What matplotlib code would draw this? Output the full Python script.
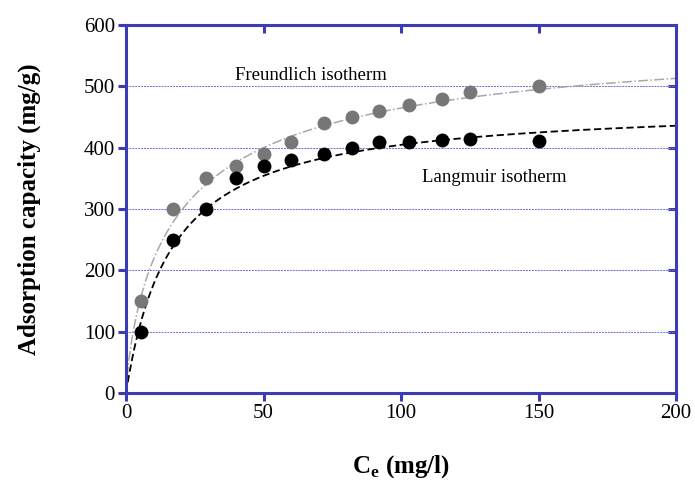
import matplotlib.pyplot as plt
import numpy as np

# measured points
ce = [5.5, 17, 29, 40, 50, 60, 72, 82, 92, 103, 115, 125, 150]
q_freundlich = [150, 300, 350, 370, 390, 410, 440, 450, 460, 470, 480, 490, 500]
q_langmuir = [100, 250, 300, 350, 370, 380, 390, 400, 410, 410, 412, 414, 411]

# fitted isotherm parameters
lang_qmax, lang_k = 472, 0.06
fr_qmax, fr_k, fr_m = 600, 0.0486, 0.78

xticks = [0, 50, 100, 150, 200]
yticks = [0, 100, 200, 300, 400, 500, 600]

axis_blue = '#3c3cb4'
plt.rcParams['font.family'] = 'Liberation Serif'
plt.rcParams['mathtext.fontset'] = 'custom'
plt.rcParams['mathtext.rm'] = 'Liberation Serif'
plt.rcParams['mathtext.bf'] = 'Liberation Serif:bold'
font_size = 15

fig = plt.figure(figsize=(6.95, 4.86), dpi=100)
ax = fig.add_axes([0.1813, 0.1914, 0.7914, 0.7572])
ax.set_xlim(0, 200)
ax.set_ylim(0, 600)

# grid
for yv in yticks[1:-1]:
	ax.axhline(yv, color='#6a6ae0', ls=(0, (2, 1)), lw=0.7, zorder=1)

# curves
c = np.linspace(0, 200, 400)
q_l = lang_qmax * lang_k * c / (1 + lang_k * c)
kc = (fr_k * c) ** fr_m
q_f = fr_qmax * kc / (1 + kc)
ax.plot(c, q_f, color='#a8a8a8', ls='-.', lw=1.1, zorder=2)
ax.plot(c, q_l, color='black', ls=(0, (4, 2)), lw=1.3, zorder=2)

ax.plot(ce, q_freundlich, 'o', color='#777777', ms=10, mec='none', zorder=3)
ax.plot(ce, q_langmuir, 'o', color='black', ms=10, mec='none', zorder=3)

ax.text(39.5, 518, 'Freundlich isotherm', fontsize=13.5, va='center', ha='left')
ax.text(107.5, 352, 'Langmuir isotherm', fontsize=13.5, va='center', ha='left')

# border
for s in ax.spines.values():
	s.set_color(axis_blue)
	s.set_linewidth(2.2)
ax.set_xticks(xticks)
ax.set_yticks(yticks)
ax.tick_params(which='major', direction='out', length=6, width=2.2, color=axis_blue,
	labelsize=font_size, pad=2)

top = ax.secondary_xaxis('top')
top.set_xticks(xticks[1:-1])
top.tick_params(direction='in', length=6, width=2.2, color=axis_blue, labeltop=False)
top.spines['top'].set_visible(False)
right = ax.secondary_yaxis('right')
right.set_yticks(yticks[1:-1])
right.tick_params(direction='in', length=6, width=2.2, color=axis_blue, labelright=False)
right.spines['right'].set_visible(False)

ax.set_ylabel('Adsorption capacity (mg/g)', fontsize=18, fontweight='bold', va='center')
ax.yaxis.set_label_coords(-0.175, 0.5)
ax.set_xlabel(r'C$_\mathbf{e}$ (mg/l)', fontsize=18, fontweight='bold', va='center')
ax.xaxis.set_label_coords(0.5, -0.2)

plt.savefig('out.png', dpi=100)
